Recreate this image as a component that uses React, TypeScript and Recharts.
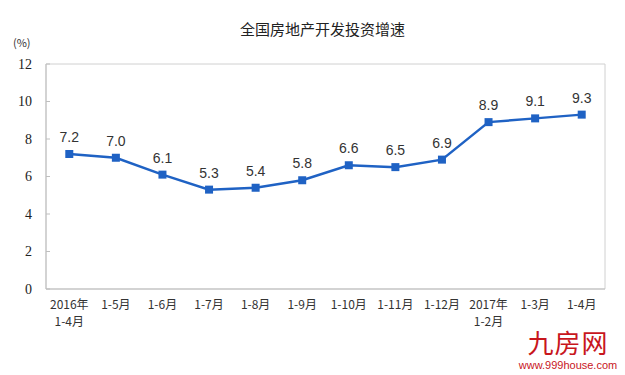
import React from "react";
import {
  LineChart,
  Line,
  XAxis,
  YAxis,
  ReferenceArea,
  LabelList,
} from "recharts";

const periods = [
  "2016年\n1-4月",
  "1-5月",
  "1-6月",
  "1-7月",
  "1-8月",
  "1-9月",
  "1-10月",
  "1-11月",
  "1-12月",
  "2017年\n1-2月",
  "1-3月",
  "1-4月",
];
const growth = [7.2, 7.0, 6.1, 5.3, 5.4, 5.8, 6.6, 6.5, 6.9, 8.9, 9.1, 9.3];
const yTicks = [0, 2, 4, 6, 8, 10, 12];

const data = periods.map((p, i) => ({ i, period: p, value: growth[i] }));

const CJK = '"Noto Sans CJK SC", "Liberation Serif", serif';
const BLUE = "#1f62c4";

const PeriodTick = (props: any) => {
  const { x, y, payload } = props;
  const lines = periods[payload.value].split("\n");
  return (
    <g>
      {lines.map((t, k) => (
        <text
          key={k}
          x={x}
          y={y + 12 + k * 17}
          textAnchor="middle"
          fontSize={12}
          fontFamily={CJK}
          fill="#333"
        >
          {t}
        </text>
      ))}
    </g>
  );
};

const SquareDot = (props: any) => {
  const { cx, cy, index } = props;
  return <rect key={index} x={cx - 4} y={cy - 4} width={8} height={8} fill={BLUE} />;
};

const App: React.FC = () => {
  return (
    <div style={{ position: "absolute", left: 0, top: 0, width: 625, height: 375, background: "#fff" }}>
      <div
        style={{
          position: "absolute",
          left: 0,
          width: 625,
          top: 18,
          textAlign: "center",
          fontFamily: CJK,
          fontSize: 15,
          color: "#222",
          paddingLeft: 10,
        }}
      >
        全国房地产开发投资增速
      </div>
      <div
        style={{
          position: "absolute",
          left: 13,
          top: 34,
          fontFamily: CJK,
          fontSize: 11,
          color: "#333",
        }}
      >
        (%)
      </div>
      <LineChart
        width={625}
        height={375}
        data={data}
        margin={{ left: 0, right: 20, top: 64, bottom: 0 }}
      >
        <XAxis
          dataKey="i"
          type="number"
          domain={[-0.5, 11.5]}
          ticks={periods.map((_, i) => i)}
          tick={<PeriodTick />}
          tickLine={false}
          axisLine={{ stroke: "#bfbfbf" }}
          interval={0}
          height={86}
          allowDataOverflow
        />
        <XAxis
          xAxisId="marks"
          dataKey="i"
          type="number"
          domain={[-0.5, 11.5]}
          ticks={[0.5, 1.5, 2.5, 3.5, 4.5, 5.5, 6.5, 7.5, 8.5, 9.5, 10.5]}
          tick={() => <g />}
          tickSize={-4}
          tickLine={{ stroke: "#bfbfbf" }}
          axisLine={false}
          interval={0}
          height={0}
          orientation="bottom"
        />
        <YAxis
          domain={[0, 12]}
          ticks={yTicks}
          width={46}
          tickSize={-4}
          tickMargin={18}
          tickLine={{ stroke: "#bfbfbf" }}
          axisLine={{ stroke: "#bfbfbf" }}
          tick={{ fontSize: 14, fontFamily: '"Liberation Serif", serif', fill: "#222" }}
          interval={0}
        />
        <ReferenceArea
          x1={-0.5}
          x2={11.5}
          y1={0}
          y2={12}
          fill="none"
          stroke="#d0d0d0"
          ifOverflow="visible"
        />
        <Line
          dataKey="value"
          stroke={BLUE}
          strokeWidth={2.5}
          dot={<SquareDot />}
          activeDot={false}
          isAnimationActive={false}
        >
          <LabelList
            dataKey="value"
            position="top"
            offset={12}
            formatter={(v: any) => Number(v).toFixed(1)}
            style={{ fontSize: 14, fontFamily: '"Liberation Sans", Arial, sans-serif', fill: "#333" }}
          />
        </Line>
      </LineChart>
      <div
        style={{
          position: "absolute",
          left: 518,
          top: 328,
          width: 100,
          textAlign: "center",
          fontFamily: CJK,
          fontSize: 26,
          lineHeight: "28px",
          color: "#c8161d",
          letterSpacing: 1,
        }}
      >
        九房网
      </div>
      <div
        style={{
          position: "absolute",
          left: 518,
          top: 359,
          width: 100,
          textAlign: "center",
          fontFamily: '"Liberation Sans", Arial, sans-serif',
          fontSize: 11,
          lineHeight: "13px",
          color: "#c8161d",
        }}
      >
        www.999house.com
      </div>
    </div>
  );
};

export default App;
